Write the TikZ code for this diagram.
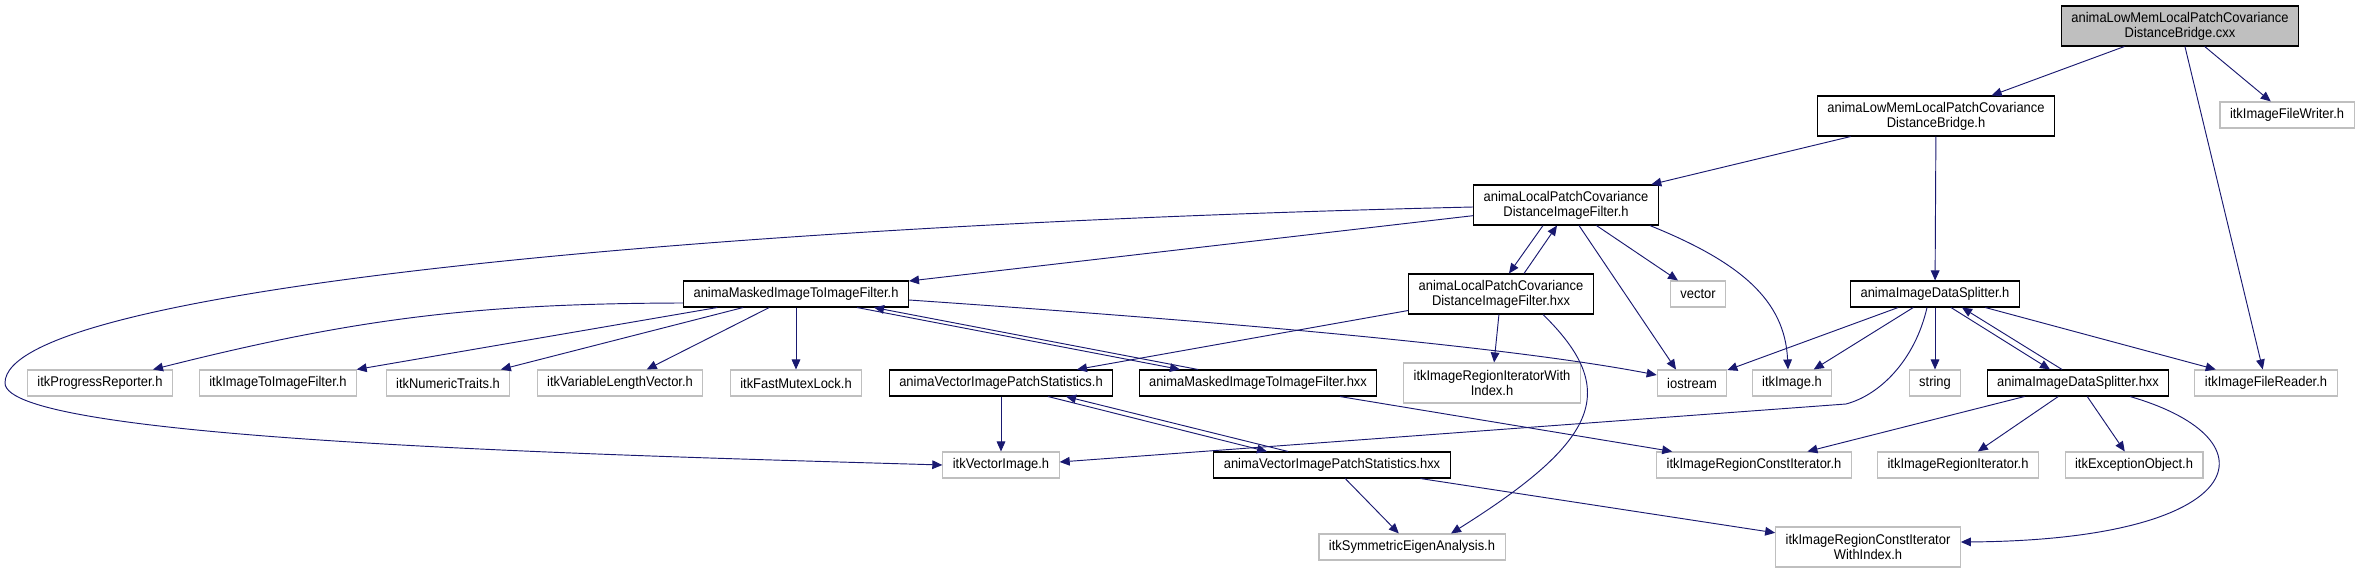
\documentclass[tikz,border=0pt]{standalone}
\usepackage{fontspec}
\setmainfont{Liberation Sans}[FakeStretch=0.92]
\usetikzlibrary{arrows.meta,positioning}
\definecolor{edgeblue}{RGB}{25,25,112}
\definecolor{extgray}{RGB}{191,191,191}

\begin{document}
\begin{tikzpicture}[x=0.03cm, y=-0.03cm,
  docbox/.style={
    draw, rectangle, line width=0.9pt, fill=white, align=center,
    font=\fontsize{12pt}{13pt}\selectfont,
    inner xsep=0.3cm, inner ysep=0.05cm, minimum height=0.78cm
  },
  extbox/.style={docbox, draw=extgray},
  rootbox/.style={docbox, fill=extgray},
  twoline/.style={minimum height=1.2cm},
  edge/.style={-{Triangle[length=0.3cm,width=0.26cm]}, edgeblue, line width=0.8pt}
]
\useasboundingbox (0,0) rectangle (2361,573);

\node[rootbox,twoline] (cxx) at (2180,26) {animaLowMemLocalPatchCovariance\\DistanceBridge.cxx};
\node[docbox,twoline] (bridgeh) at (1936,116) {animaLowMemLocalPatchCovariance\\DistanceBridge.h};
\node[extbox] (writer) at (2287,115) {itkImageFileWriter.h};
\node[docbox,twoline] (lpch) at (1566,205) {animaLocalPatchCovariance\\DistanceImageFilter.h};
\node[docbox,twoline] (lpchxx) at (1501,294) {animaLocalPatchCovariance\\DistanceImageFilter.hxx};
\node[extbox] (vector) at (1698,294) {vector};
\node[docbox] (splith) at (1935,294) {animaImageDataSplitter.h};
\node[docbox] (maskedh) at (796,294) {animaMaskedImageToImageFilter.h};

\node[extbox] (progress) at (100,383) {itkProgressReporter.h};
\node[extbox] (imgtoimg) at (278,383) {itkImageToImageFilter.h};
\node[extbox] (numeric) at (448,383) {itkNumericTraits.h};
\node[extbox] (varlen) at (620,383) {itkVariableLengthVector.h};
\node[extbox] (mutex) at (796,383) {itkFastMutexLock.h};
\node[docbox] (vipsh) at (1001,383) {animaVectorImagePatchStatistics.h};
\node[docbox] (maskedhxx) at (1258,383) {animaMaskedImageToImageFilter.hxx};
\node[extbox,twoline] (regiterwi) at (1492,383) {itkImageRegionIteratorWith\\Index.h};
\node[extbox] (iostream) at (1692,383) {iostream};
\node[extbox] (itkimage) at (1792,383) {itkImage.h};
\node[extbox] (string) at (1935,383) {string};
\node[docbox] (splithxx) at (2078,383) {animaImageDataSplitter.hxx};
\node[extbox] (reader) at (2266,383) {itkImageFileReader.h};

\node[extbox] (vecimg) at (1001,465) {itkVectorImage.h};
\node[docbox] (vipshxx) at (1332,465) {animaVectorImagePatchStatistics.hxx};
\node[extbox] (constiter) at (1754,465) {itkImageRegionConstIterator.h};
\node[extbox] (regiter) at (1958,465) {itkImageRegionIterator.h};
\node[extbox] (except) at (2134,465) {itkExceptionObject.h};

\node[extbox] (eigen) at (1412,547) {itkSymmetricEigenAnalysis.h};
\node[extbox,twoline] (constiterwi) at (1868,547) {itkImageRegionConstIterator\\WithIndex.h};

% top file
\draw[edge] (cxx) -- (bridgeh);
\draw[edge] (cxx) -- (writer);
\draw[edge] (cxx) -- (reader);
\draw[edge] (bridgeh) -- (lpch);
\draw[edge] (bridgeh) -- (splith);

% local patch covariance filter
\draw[edge] (lpch) -- (maskedh);
\draw[edge] ([xshift=-0.69cm]lpch.south) -- ([xshift=0.24cm]lpchxx.north);
\draw[edge] ([xshift=0.69cm]lpchxx.north) -- ([xshift=-0.27cm]lpch.south);
\draw[edge] ([xshift=0.39cm]lpch.south) -- ([xshift=-0.48cm]iostream.north);
\draw[edge] (lpch) -- (vector);
\draw[edge] ([xshift=-0.27cm]lpch.south east) .. controls (1740,262) and (1785,300) .. ([xshift=-0.12cm]itkimage.north);
\draw[edge] ([yshift=-0.06cm]lpch.west) .. controls (700,225) and (5,290) .. (5,383)
  .. controls (5,440) and (600,455) .. (vecimg.west);

% masked filter
\draw[edge] ([yshift=-0.27cm]maskedh.west) to[bend right=7] ([xshift=1.59cm]progress.north);
\draw[edge] (maskedh) -- (imgtoimg);
\draw[edge] (maskedh) -- (numeric);
\draw[edge] (maskedh) -- (varlen);
\draw[edge] (maskedh) -- (mutex);
\draw[edge] ([xshift=1.83cm]maskedh.south) -- ([xshift=-2.34cm]maskedhxx.north);
\draw[edge] ([xshift=-1.8cm]maskedhxx.north) -- ([xshift=2.34cm]maskedh.south);
\draw[edge] ([yshift=-0.18cm]maskedh.east) .. controls (1200,320) and (1500,345) .. ([yshift=0.24cm]iostream.west);
\draw[edge] (maskedhxx) -- (constiter);

% filter hxx
\draw[edge] (lpchxx) -- (vipsh);
\draw[edge] (lpchxx) -- (regiterwi);
\draw[edge] ([xshift=1.26cm]lpchxx.south) .. controls (1620,390) and (1600,440) .. ([xshift=1.17cm]eigen.north);

% patch statistics
\draw[edge] (vipsh) -- (vecimg);
\draw[edge] ([xshift=1.41cm]vipsh.south) -- ([xshift=-1.95cm]vipshxx.north);
\draw[edge] ([xshift=-1.32cm]vipshxx.north) -- ([xshift=1.95cm]vipsh.south);
\draw[edge] (vipshxx) -- (eigen);
\draw[edge] (vipshxx) -- (constiterwi);

% data splitter
\draw[edge] (splith) -- (iostream);
\draw[edge] (splith) -- (itkimage);
\draw[edge] (splith) -- (string);
\draw[edge] ([xshift=0.48cm]splith.south) -- ([xshift=-0.84cm]splithxx.north);
\draw[edge] ([xshift=-0.48cm]splithxx.north) -- ([xshift=0.81cm]splith.south);
\draw[edge] (splith) -- (reader);
\draw[edge] ([xshift=-0.24cm]splith.south) .. controls (1915,360) and (1880,395) .. (1846,404)
  -- ([yshift=0.09cm]vecimg.east);
\draw[edge] (splithxx) -- (constiter);
\draw[edge] (splithxx) -- (regiter);
\draw[edge] (splithxx) -- (except);
\draw[edge] ([xshift=1.56cm]splithxx.south) .. controls (2280,440) and (2250,540) .. ([yshift=0.15cm]constiterwi.east);

\end{tikzpicture}
\end{document}
